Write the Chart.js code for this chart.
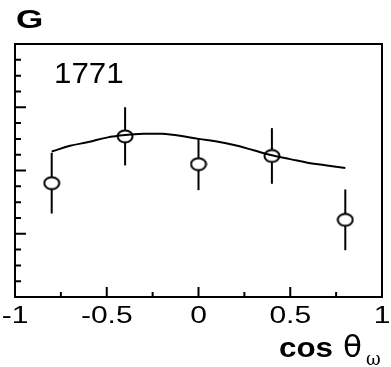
<!DOCTYPE html>
<html>
<head>
<meta charset="utf-8">
<script src="https://cdn.jsdelivr.net/npm/chart.js@4/dist/chart.umd.min.js"></script>
<style>
  html, body { margin: 0; padding: 0; background: #fff; }
  canvas { display: block; }
</style>
</head>
<body>
<canvas id="chart" width="391" height="367"></canvas>
<script>
// Datos del gráfico
const pointX = [-0.8, -0.4, 0, 0.4, 0.8];
const pointY = [1.80, 2.54, 2.10, 2.23, 1.22];
const pointErr = [0.48, 0.46, 0.41, 0.44, 0.48];

const curveX = [-0.8, -0.7, -0.6, -0.5, -0.4, -0.3, -0.2, -0.1, 0, 0.1, 0.2, 0.3, 0.4, 0.5, 0.6, 0.7, 0.8];
const curveY = [2.30, 2.39, 2.45, 2.52, 2.56, 2.58, 2.58, 2.55, 2.50, 2.46, 2.40, 2.32, 2.24, 2.18, 2.12, 2.08, 2.04];

const xMajorTicks = [-1, -0.5, 0, 0.5, 1];
const xMinorTicks = [-0.75, -0.25, 0.25, 0.75];
const xTickLabels = ['-1', '-0.5', '0', '0.5', '1'];
const yMajorTicks = [0, 1, 2, 3, 4];
const yMinorStep = 0.25;

const panelLabel = 'G';
const energyLabel = '1771';

// Marcador elíptico (estilo ROOT)
function makeEllipse() {
  const c = document.createElement('canvas');
  c.width = 18; c.height = 15;
  const g = c.getContext('2d');
  g.beginPath();
  g.ellipse(9, 7.5, 7.5, 6, 0, 0, Math.PI * 2);
  g.fillStyle = '#fff';
  g.fill();
  g.lineWidth = 2;
  g.strokeStyle = '#000';
  g.stroke();
  return c;
}

// Texto con estiramiento horizontal
function drawText(ctx, text, x, y, font, sx, align) {
  ctx.save();
  ctx.font = font;
  ctx.textBaseline = 'alphabetic';
  ctx.textAlign = align || 'left';
  ctx.translate(x, y);
  ctx.scale(sx, 1);
  ctx.fillText(text, 0, 0);
  ctx.restore();
}

const errorBars = {
  id: 'errorBars',
  beforeDatasetsDraw(chart) {
    const { ctx, scales: { x, y } } = chart;
    ctx.save();
    ctx.strokeStyle = '#000';
    ctx.lineWidth = 2;
    pointX.forEach((v, i) => {
      const px = x.getPixelForValue(v);
      ctx.beginPath();
      ctx.moveTo(px, y.getPixelForValue(pointY[i] + pointErr[i]));
      ctx.lineTo(px, y.getPixelForValue(pointY[i] - pointErr[i]));
      ctx.stroke();
    });
    ctx.restore();
  }
};

const frame = {
  id: 'frame',
  afterDraw(chart) {
    const { ctx, chartArea: a, scales: { x, y } } = chart;
    ctx.save();
    ctx.strokeStyle = '#000';
    ctx.fillStyle = '#000';
    ctx.lineWidth = 2;
    ctx.strokeRect(a.left, a.top, a.right - a.left, a.bottom - a.top);

    // Marcas del eje X (hacia dentro)
    ctx.beginPath();
    xMajorTicks.forEach(v => {
      const px = x.getPixelForValue(v);
      ctx.moveTo(px, a.bottom);
      ctx.lineTo(px, a.bottom - 10);
    });
    xMinorTicks.forEach(v => {
      const px = x.getPixelForValue(v);
      ctx.moveTo(px, a.bottom);
      ctx.lineTo(px, a.bottom - 5);
    });
    // Marcas del eje Y
    yMajorTicks.forEach(v => {
      const py = y.getPixelForValue(v);
      ctx.moveTo(a.left, py);
      ctx.lineTo(a.left + 11, py);
    });
    for (let v = 0; v <= 4; v += yMinorStep) {
      const py = y.getPixelForValue(v);
      ctx.moveTo(a.left, py);
      ctx.lineTo(a.left + 6, py);
    }
    ctx.stroke();

    // Etiquetas del eje X
    xMajorTicks.forEach((v, i) => {
      drawText(ctx, xTickLabels[i], x.getPixelForValue(v), 323, '24px "Liberation Sans"', 1.25, 'center');
    });

    // Título del eje X
    drawText(ctx, 'cos', 279, 357, 'bold 28px "Liberation Sans"', 1.12, 'left');
    drawText(ctx, 'θ', 343, 357, '31px "DejaVu Sans"', 1.0, 'left');
    drawText(ctx, 'ω', 366, 365, '18px "DejaVu Serif"', 1.0, 'left');

    // Rótulos
    drawText(ctx, panelLabel, 16, 28, 'bold 26px "Liberation Sans"', 1.35, 'left');
    drawText(ctx, energyLabel, 54, 83, '29px "Liberation Sans"', 1.08, 'left');
    ctx.restore();
  }
};

new Chart(document.getElementById('chart'), {
  type: 'scatter',
  data: {
    datasets: [
      {
        type: 'line',
        data: curveX.map((v, i) => ({ x: v, y: curveY[i] })),
        borderColor: '#000',
        borderWidth: 2,
        pointRadius: 0,
        tension: 0.4,
        fill: false
      },
      {
        data: pointX.map((v, i) => ({ x: v, y: pointY[i] })),
        pointStyle: makeEllipse(),
        pointRadius: 8
      }
    ]
  },
  options: {
    responsive: false,
    animation: false,
    devicePixelRatio: 1,
    layout: { padding: { left: 15, right: 7, top: 44, bottom: 70 } },
    scales: {
      x: { type: 'linear', min: -1, max: 1, display: false },
      y: { min: 0, max: 4, display: false }
    },
    plugins: { legend: { display: false }, tooltip: { enabled: false } }
  },
  plugins: [errorBars, frame]
});
</script>
</body>
</html>
